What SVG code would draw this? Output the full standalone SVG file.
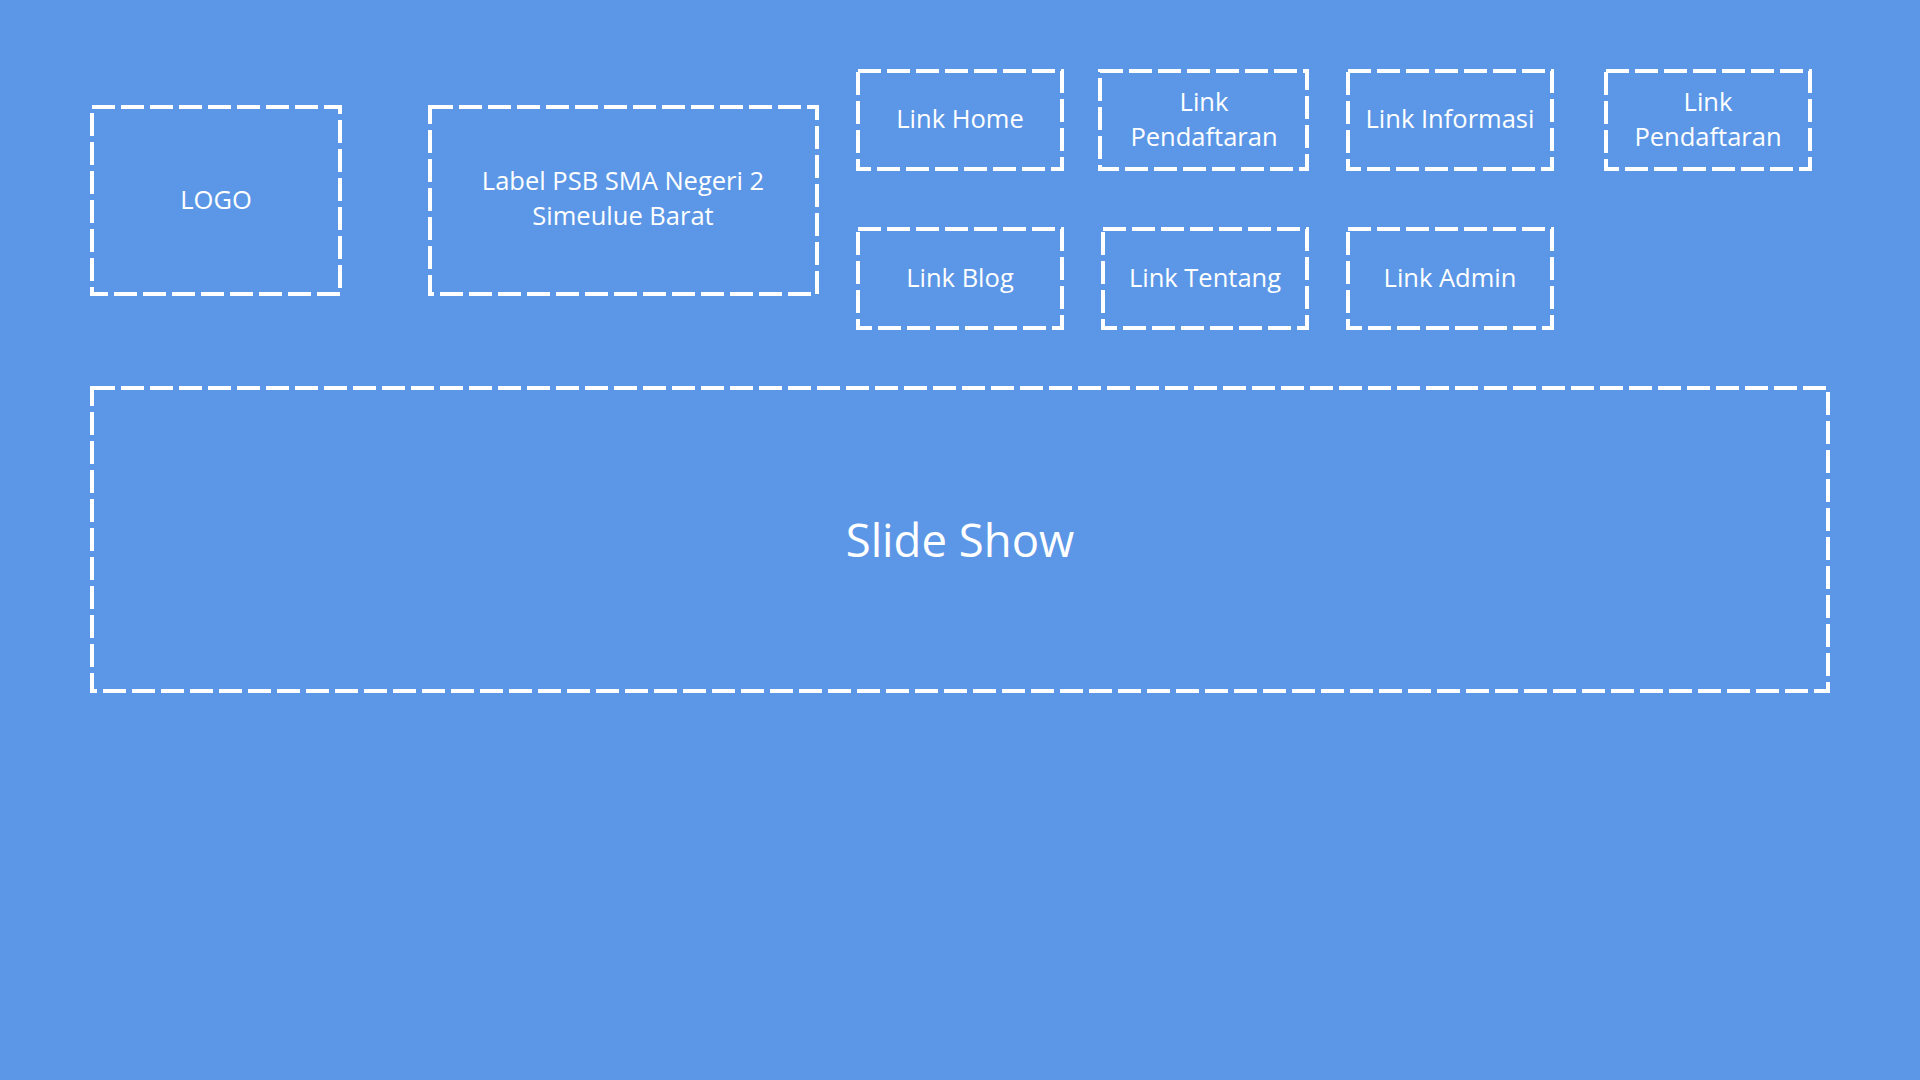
<svg xmlns="http://www.w3.org/2000/svg" width="1920" height="1080" viewBox="0 0 1920 1080">
<style>
.box{fill:none;stroke:#ffffff;stroke-width:4;stroke-dasharray:23 6}
.t{fill:#ffffff;font-family:"Open Sans","Noto Sans","Liberation Sans",sans-serif;font-size:25.5px;text-anchor:middle}
.big{font-size:45.5px}
</style>
<rect width="1920" height="1080" fill="#5b97e6"/>
<g id="logo"><rect class="box" x="92" y="107" width="248" height="187"/><text class="t" x="216" y="209">LOGO</text></g>
<g id="label"><rect class="box" x="430" y="107" width="387" height="187"/><text class="t" x="623" y="190">Label PSB SMA Negeri 2</text><text class="t" x="623" y="225">Simeulue Barat</text></g>
<g id="link-home"><rect class="box" x="858" y="71" width="204" height="98"/><text class="t" x="960" y="128">Link Home</text></g>
<g id="link-pendaftaran"><rect class="box" x="1100" y="71" width="207" height="98"/><text class="t" x="1204" y="111">Link</text><text class="t" x="1204" y="146">Pendaftaran</text></g>
<g id="link-informasi"><rect class="box" x="1348" y="71" width="204" height="98"/><text class="t" x="1450" y="128">Link Informasi</text></g>
<g id="link-pendaftaran-2"><rect class="box" x="1606" y="71" width="204" height="98"/><text class="t" x="1708" y="111">Link</text><text class="t" x="1708" y="146">Pendaftaran</text></g>
<g id="link-blog"><rect class="box" x="858" y="229" width="204" height="99"/><text class="t" x="960" y="287">Link Blog</text></g>
<g id="link-tentang"><rect class="box" x="1103" y="229" width="204" height="99"/><text class="t" x="1205" y="287">Link Tentang</text></g>
<g id="link-admin"><rect class="box" x="1348" y="229" width="204" height="99"/><text class="t" x="1450" y="287">Link Admin</text></g>
<g id="slide-show"><rect class="box" x="92" y="388" width="1736" height="303"/><text class="t big" x="960" y="557">Slide Show</text></g>
<g id="connectors"></g>
</svg>
